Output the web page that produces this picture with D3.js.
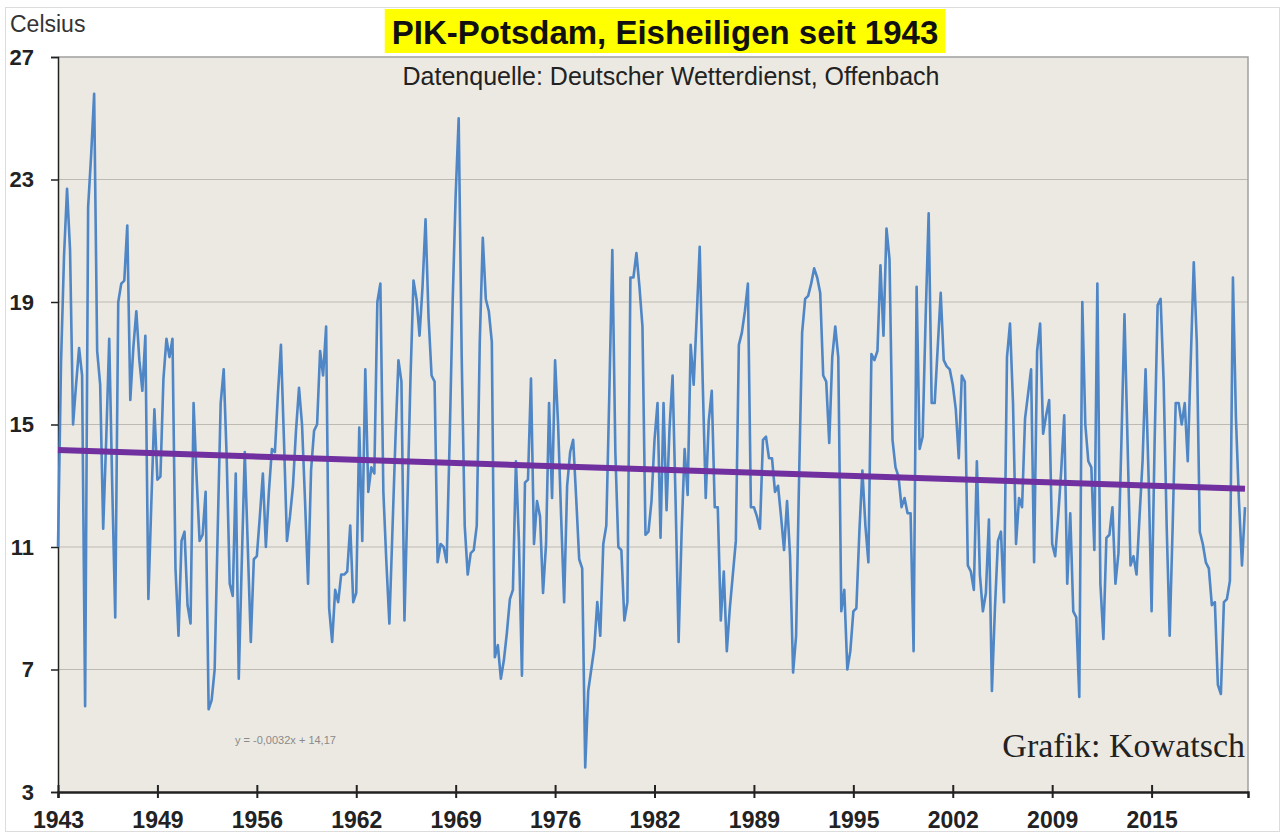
<!DOCTYPE html>
<html>
<head>
<meta charset="utf-8">
<script src="https://cdn.jsdelivr.net/npm/d3@7"></script>
<style>
  body { margin: 0; background: #fff; }
  svg { display: block; font-family: "Liberation Sans", Arial, sans-serif; }
</style>
</head>
<body>
<script>
// tick labels on the category axis (every 33rd value)
var tickLabels = ["1943", "1949", "1956", "1962", "1969", "1976", "1982", "1989", "1995", "2002", "2009", "2015"];
var tickEvery = 33;
var yTicks = [3, 7, 11, 15, 19, 23, 27];

// linear trend as printed in the chart
var trendSlope = -0.0032;
var trendIntercept = 14.17;

// daily temperatures 11.-15. May, 5 values per year, 1943-2021
var temps = [
  11.0, 17.0, 20.5, 22.7, 20.7,   // 1943
  15.0, 16.3, 17.5, 16.6, 5.8,    // 1944
  22.1, 23.8, 25.8, 17.4, 16.3,   // 1945
  11.6, 14.5, 17.8, 13.0, 8.7,    // 1946
  19.0, 19.6, 19.7, 21.5, 15.8,   // 1947
  17.5, 18.7, 17.1, 16.1, 17.9,   // 1948
  9.3, 12.5, 15.5, 13.2, 13.3,    // 1949
  16.5, 17.8, 17.2, 17.8, 10.3,   // 1950
  8.1, 11.2, 11.5, 9.1, 8.5,      // 1951
  15.7, 13.3, 11.2, 11.4, 12.8,   // 1952
  5.7, 6.0, 7.0, 11.5, 15.7,      // 1953
  16.8, 13.9, 9.8, 9.4, 13.4,     // 1954
  6.7, 10.5, 14.1, 11.0, 7.9,     // 1955
  10.6, 10.7, 12.0, 13.4, 11.0,   // 1956
  12.8, 14.2, 14.1, 16.0, 17.6,   // 1957
  14.5, 11.2, 12.0, 13.0, 14.8,   // 1958
  16.2, 15.0, 12.5, 9.8, 13.5,    // 1959
  14.8, 15.0, 17.4, 16.6, 18.2,   // 1960
  9.0, 7.9, 9.6, 9.2, 10.1,       // 1961
  10.1, 10.2, 11.7, 9.2, 9.5,     // 1962
  14.9, 11.2, 16.8, 12.8, 13.6,   // 1963
  13.4, 19.0, 19.6, 12.8, 10.5,   // 1964
  8.5, 11.5, 14.5, 17.1, 16.4,    // 1965
  8.6, 12.5, 16.5, 19.7, 19.1,    // 1966
  17.9, 19.5, 21.7, 18.5, 16.6,   // 1967
  16.4, 10.5, 11.1, 11.0, 10.5,   // 1968
  14.5, 19.0, 22.5, 25.0, 17.2,   // 1969
  11.7, 10.1, 10.8, 10.9, 11.7,   // 1970
  17.7, 21.1, 19.1, 18.7, 17.7,   // 1971
  7.4, 7.8, 6.7, 7.3, 8.2,        // 1972
  9.3, 9.6, 13.8, 11.2, 6.8,      // 1973
  13.1, 13.2, 16.5, 11.1, 12.5,   // 1974
  12.0, 9.5, 11.1, 15.7, 12.6,    // 1975
  17.1, 15.0, 12.0, 9.2, 13.0,    // 1976
  14.1, 14.5, 12.6, 10.6, 10.3,   // 1977
  3.8, 6.3, 7.0, 7.7, 9.2,        // 1978
  8.1, 11.1, 11.7, 16.0, 20.7,    // 1979
  14.1, 11.0, 10.9, 8.6, 9.2,     // 1980
  19.8, 19.8, 20.6, 19.5, 18.2,   // 1981
  11.4, 11.5, 12.5, 14.5, 15.7,   // 1982
  11.3, 15.7, 12.2, 14.9, 16.6,   // 1983
  12.5, 7.9, 11.5, 14.2, 12.7,    // 1984
  17.6, 16.3, 18.5, 20.8, 16.4,   // 1985
  12.6, 15.1, 16.1, 12.3, 12.3,   // 1986
  8.6, 10.2, 7.6, 9.0, 10.1,      // 1987
  11.2, 17.6, 18.0, 18.7, 19.6,   // 1988
  12.3, 12.3, 12.0, 11.6, 14.5,   // 1989
  14.6, 13.9, 13.9, 12.8, 13.0,   // 1990
  12.0, 10.9, 12.5, 10.7, 6.9,    // 1991
  8.1, 13.3, 18.0, 19.1, 19.2,    // 1992
  19.6, 20.1, 19.8, 19.3, 16.6,   // 1993
  16.4, 14.4, 17.2, 18.2, 17.2,   // 1994
  8.9, 9.6, 7.0, 7.6, 8.9,        // 1995
  9.0, 11.5, 13.5, 11.7, 10.5,    // 1996
  17.3, 17.1, 17.4, 20.2, 17.9,   // 1997
  21.4, 20.4, 14.5, 13.6, 13.3,   // 1998
  12.3, 12.6, 12.1, 12.1, 7.6,    // 1999
  19.5, 14.2, 14.6, 18.5, 21.9,   // 2000
  15.7, 15.7, 17.5, 19.3, 17.1,   // 2001
  16.9, 16.8, 16.3, 15.5, 13.9,   // 2002
  16.6, 16.4, 10.4, 10.2, 9.6,    // 2003
  13.8, 10.1, 8.9, 9.5, 11.9,     // 2004
  6.3, 9.0, 11.2, 11.5, 9.2,      // 2005
  17.2, 18.3, 15.7, 11.1, 12.6,   // 2006
  12.3, 15.2, 16.0, 16.8, 10.5,   // 2007
  17.4, 18.3, 14.7, 15.3, 15.8,   // 2008
  11.1, 10.7, 12.0, 13.5, 15.3,   // 2009
  9.8, 12.1, 8.9, 8.7, 6.1,       // 2010
  19.0, 15.0, 13.8, 13.6, 10.9,   // 2011
  19.6, 9.8, 8.0, 11.3, 11.4,     // 2012
  12.3, 9.8, 10.8, 14.5, 18.6,    // 2013
  14.5, 10.4, 10.7, 10.1, 12.0,   // 2014
  13.8, 16.8, 13.3, 8.9, 14.4,    // 2015
  18.9, 19.1, 16.4, 11.7, 8.1,    // 2016
  11.7, 15.7, 15.7, 15.0, 15.7,   // 2017
  13.8, 17.1, 20.3, 17.7, 11.5,   // 2018
  11.1, 10.5, 10.3, 9.1, 9.2,     // 2019
  6.5, 6.2, 9.2, 9.3, 9.9,        // 2020
  19.8, 15.2, 12.5, 10.4, 12.3    // 2021
];

var W = 1285, H = 834;
var plot = { left: 58, right: 1248, top: 57, bottom: 792 };

var svg = d3.select("body").append("svg")
  .attr("width", W)
  .attr("height", H);

// light frame round the whole chart
svg.append("rect")
  .attr("x", 5.5).attr("y", 7.5)
  .attr("width", 1274).attr("height", 824)
  .attr("fill", "#fff")
  .attr("stroke", "#dcdcdc");

var x = d3.scaleLinear()
  .domain([0, temps.length])
  .range([plot.left, plot.right]);
var y = d3.scaleLinear()
  .domain([3, 27])
  .range([plot.bottom, plot.top]);

// plot area
svg.append("rect")
  .attr("x", plot.left).attr("y", plot.top)
  .attr("width", plot.right - plot.left)
  .attr("height", plot.bottom - plot.top)
  .attr("fill", "#ece9e2");

// gridlines
svg.append("g")
  .selectAll("line")
  .data(yTicks.slice(1, -1))
  .enter().append("line")
  .attr("x1", plot.left).attr("x2", plot.right)
  .attr("y1", function (d) { return y(d); })
  .attr("y2", function (d) { return y(d); })
  .attr("stroke", "#bdbab4")
  .attr("stroke-width", 1.2);

// top and right border
svg.append("path")
  .attr("d", "M" + plot.left + "," + plot.top + "H" + plot.right + "V" + plot.bottom)
  .attr("fill", "none")
  .attr("stroke", "#a0a0a0")
  .attr("stroke-width", 1.5);

// y axis
var yAxis = svg.append("g")
  .attr("transform", "translate(" + plot.left + ",0)")
  .call(d3.axisLeft(y).tickValues(yTicks).tickSize(7).tickPadding(17));
yAxis.select(".domain").attr("stroke", "#222").attr("stroke-width", 1.5);
yAxis.selectAll(".tick line").attr("stroke", "#222").attr("stroke-width", 1.5);
yAxis.selectAll(".tick text")
  .attr("font-size", 22).attr("font-weight", "bold").attr("fill", "#222")
  .attr("font-family", "Liberation Sans, Arial, sans-serif");

// x axis
var xAxis = svg.append("g")
  .attr("transform", "translate(0," + plot.bottom + ")")
  .call(d3.axisBottom(x)
    .tickValues(d3.range(0, tickLabels.length * tickEvery, tickEvery))
    .tickFormat(function (d, i) { return tickLabels[i]; })
    .tickSize(6).tickPadding(14));
xAxis.select(".domain").attr("stroke", "#222").attr("stroke-width", 2.5);
xAxis.selectAll(".tick line").attr("y1", -7).attr("stroke", "#222").attr("stroke-width", 2);
xAxis.selectAll(".tick text")
  .attr("font-size", 23).attr("font-weight", "bold").attr("fill", "#222")
  .attr("font-family", "Liberation Sans, Arial, sans-serif");

// temperature line
var line = d3.line()
  .x(function (d, i) { return x(i); })
  .y(function (d) { return y(d); });

svg.append("path")
  .datum(temps)
  .attr("fill", "none")
  .attr("stroke", "#4f86c6")
  .attr("stroke-width", 2.6)
  .attr("stroke-linejoin", "round")
  .attr("d", line);

// trend line (x counted from 1 as in Excel)
var trendEnds = [1, temps.length];
svg.append("line")
  .attr("x1", x(trendEnds[0] - 1)).attr("x2", x(trendEnds[1] - 1))
  .attr("y1", y(trendIntercept + trendSlope * trendEnds[0]))
  .attr("y2", y(trendIntercept + trendSlope * trendEnds[1]))
  .attr("stroke", "#7030a0")
  .attr("stroke-width", 6);

// texts
svg.append("text")
  .attr("x", 10).attr("y", 32)
  .attr("font-size", 23).attr("fill", "#333")
  .text("Celsius");

var titleBox = svg.append("rect");
var title = svg.append("text")
  .attr("x", 665).attr("y", 44)
  .attr("text-anchor", "middle")
  .attr("font-size", 33).attr("font-weight", "bold").attr("fill", "#111")
  .text("PIK-Potsdam, Eisheiligen seit 1943");
var tb = title.node().getBBox();
titleBox
  .attr("x", tb.x - 7).attr("y", 9)
  .attr("width", tb.width + 14).attr("height", 44)
  .attr("fill", "#ffff00");

svg.append("text")
  .attr("x", 671).attr("y", 85)
  .attr("text-anchor", "middle")
  .attr("font-size", 25).attr("fill", "#222")
  .text("Datenquelle: Deutscher Wetterdienst, Offenbach");

svg.append("text")
  .attr("x", 235).attr("y", 744)
  .attr("font-size", 11).attr("fill", "#8a8a8a")
  .text("y = -0,0032x + 14,17");

svg.append("text")
  .attr("x", 1245).attr("y", 757)
  .attr("text-anchor", "end")
  .attr("font-family", "Liberation Serif, Times New Roman, serif")
  .attr("font-size", 34).attr("fill", "#222")
  .text("Grafik: Kowatsch");
</script>
</body>
</html>
